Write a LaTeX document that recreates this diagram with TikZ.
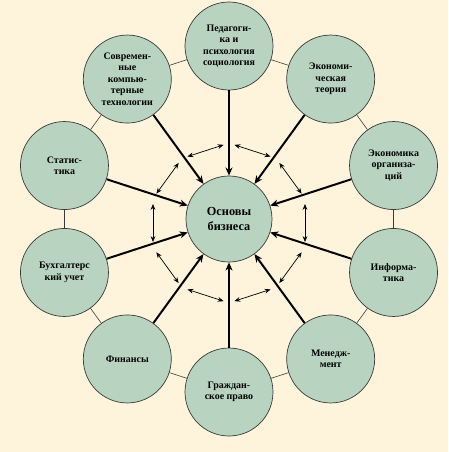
\documentclass[tikz,border=0pt]{standalone}
\usepackage{fontspec}
\setmainfont{Liberation Serif}
\usetikzlibrary{arrows.meta}

\definecolor{paper}{HTML}{FEF4DC}
\definecolor{sage}{HTML}{B8D4C1}
\definecolor{rim}{HTML}{3A3A3A}

\begin{document}
\begin{tikzpicture}[
    field/.style={
        circle,
        draw=rim,
        fill=sage,
        line width=0.6pt,
        minimum size=2.64cm,
        inner sep=0pt,
        align=center,
        font=\fontsize{8.5}{9.8}\selectfont\bfseries
    },
    hub/.style={
        field,
        minimum size=2.58cm,
        font=\fontsize{10.5}{12.5}\selectfont\bfseries
    },
    feed/.style={
        line width=1.7pt,
        -{Stealth[length=7pt,width=6pt]}
    },
    link/.style={
        draw=rim,
        line width=0.5pt
    },
    swap/.style={
        line width=0.6pt,
        {Stealth[length=5pt,width=4pt]}-{Stealth[length=5pt,width=4pt]}
    }
]

\fill[paper] (-6.87,-6.99) rectangle (6.57,6.57);
\useasboundingbox (-6.87,-6.99) rectangle (6.57,6.57);

\node[hub] (base) at (0,0) {Основы\\бизнеса};

\node[field] (ped) at (90:5.19) {Педагоги-\\ка и\\психология\\социология};
\node[field] (comp) at (126:5.19) {Современ-\\ные\\компью-\\терные\\технологии};
\node[field] (stat) at (162:5.19) {Статис-\\тика};
\node[field] (acc) at (198:5.19) {Бухгалтерс\\кий учет};
\node[field] (fin) at (234:5.19) {Финансы};
\node[field] (law) at (270:5.19) {Граждан-\\ское право};
\node[field] (mgmt) at (306:5.19) {Менедж-\\мент};
\node[field] (inf) at (342:5.19) {Информа-\\тика};
\node[field] (org) at (18:5.19) {Экономика\\организа-\\ций};
\node[field] (econ) at (54:5.19) {Экономи-\\ческая\\теория};

\foreach \a/\b in {ped/comp, comp/stat, stat/acc, acc/fin, fin/law,
                   law/mgmt, mgmt/inf, inf/org, org/econ, econ/ped}
    \draw[link] (\a) -- (\b);

\foreach \n in {ped, comp, stat, acc, fin, law, mgmt, inf, org, econ}
    \draw[feed] (\n) -- (base);

\coordinate (ring) at (0,-0.12);
\foreach \m [count=\i] in {108, 144, 180, 216, 252, 288, 324, 0, 36, 72} {
    \coordinate (sw\i a) at ([shift={(\m:2.28)}] ring);
    \coordinate (s\i a) at ([shift={(\m+90:0.57)}] sw\i a);
    \coordinate (s\i b) at ([shift={(\m-90:0.57)}] sw\i a);
    \draw[swap] (s\i a) -- (s\i b);
}

\end{tikzpicture}
\end{document}
